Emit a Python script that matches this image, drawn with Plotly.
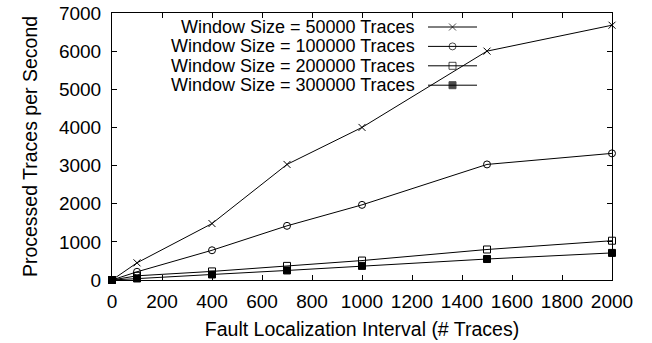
import plotly.graph_objects as go

# ---- data ----
intervals = [0, 100, 400, 700, 1000, 1500, 2000]
series_names = [
    "Window Size = 50000 Traces",
    "Window Size = 100000 Traces",
    "Window Size = 200000 Traces",
    "Window Size = 300000 Traces",
]
w50000 = [0, 450, 1480, 3030, 4000, 6000, 6680]
w100000 = [0, 215, 780, 1420, 1970, 3030, 3320]
w200000 = [0, 110, 225, 370, 510, 800, 1030]
w300000 = [0, 40, 145, 250, 370, 550, 710]
x_ticks = [0, 200, 400, 600, 800, 1000, 1200, 1400, 1600, 1800, 2000]
y_ticks = [0, 1000, 2000, 3000, 4000, 5000, 6000, 7000]

# ---- styles ----
symbols = ["x-thin-open", "circle-open", "square-open", "square"]
sizes = [7, 7, 7, 7]
FONT = "Liberation Sans, Arial, sans-serif"

W, H = 652, 343
ML, MR, MT, MB = 112, 40, 13, 63
PW, PH = W - ML - MR, H - MT - MB
XMAX, YMAX = 2000, 7000

fig = go.Figure()
all_series = [w50000, w100000, w200000, w300000]
for name, ys, sym, sz in zip(series_names, all_series, symbols, sizes):
    fig.add_trace(go.Scatter(
        x=intervals, y=ys, mode="lines+markers", name=name,
        line=dict(color="black", width=1),
        marker=dict(symbol=sym, size=sz, color="black",
                    line=dict(color="black", width=1)),
        showlegend=False, cliponaxis=False,
    ))

# ---- custom gnuplot-style key (text right, sample on the right) ----
key_text_right_px = 417
key_line_px = (428, 477)
key_row0_px, key_row_step = 27, 19.4


def px_to_x(px):
    return (px - ML) / PW * XMAX


def py_to_y(py):
    return (MT + PH - py) / PH * YMAX


for i, (name, sym, sz) in enumerate(zip(series_names, symbols, sizes)):
    py = key_row0_px + i * key_row_step
    yv = py_to_y(py)
    xa, xb = px_to_x(key_line_px[0]), px_to_x(key_line_px[1])
    fig.add_trace(go.Scatter(
        x=[xa, (xa + xb) / 2, xb], y=[yv, yv, yv], mode="lines+markers",
        line=dict(color="black", width=1),
        marker=dict(symbol=sym, size=[0, sz, 0], color="black",
                    line=dict(color="black", width=1)),
        showlegend=False, hoverinfo="skip", cliponaxis=False,
    ))
    fig.add_annotation(
        x=px_to_x(key_text_right_px), y=yv, xref="x", yref="y",
        text=name, showarrow=False, xanchor="right", yanchor="middle",
        font=dict(family=FONT, size=18, color="black"),
    )

axis_common = dict(
    showline=True, linecolor="black", linewidth=1, mirror="ticks",
    ticks="inside", ticklen=5, tickcolor="black", tickwidth=1,
    showgrid=False, zeroline=False, automargin=False,
    tickfont=dict(family=FONT, size=19, color="black"),
)

fig.update_xaxes(
    range=[0, XMAX], tickvals=x_ticks, ticktext=[str(v) for v in x_ticks],
    ticklabelstandoff=4,
    title=dict(text="Fault Localization Interval (# Traces)",
               font=dict(family=FONT, size=19.5, color="black"), standoff=11),
    **axis_common,
)
fig.update_yaxes(
    range=[0, YMAX], tickvals=y_ticks, ticktext=[str(v) for v in y_ticks],
    ticklabelstandoff=6,
    title=dict(text="Processed Traces per Second",
               font=dict(family=FONT, size=19.5, color="black"), standoff=16),
    **axis_common,
)

fig.update_layout(
    width=W, height=H,
    margin=dict(l=ML, r=MR, t=MT, b=MB, pad=0),
    paper_bgcolor="white", plot_bgcolor="white",
    font=dict(family=FONT, color="black"),
    showlegend=False,
)

fig.write_html("out.html")
